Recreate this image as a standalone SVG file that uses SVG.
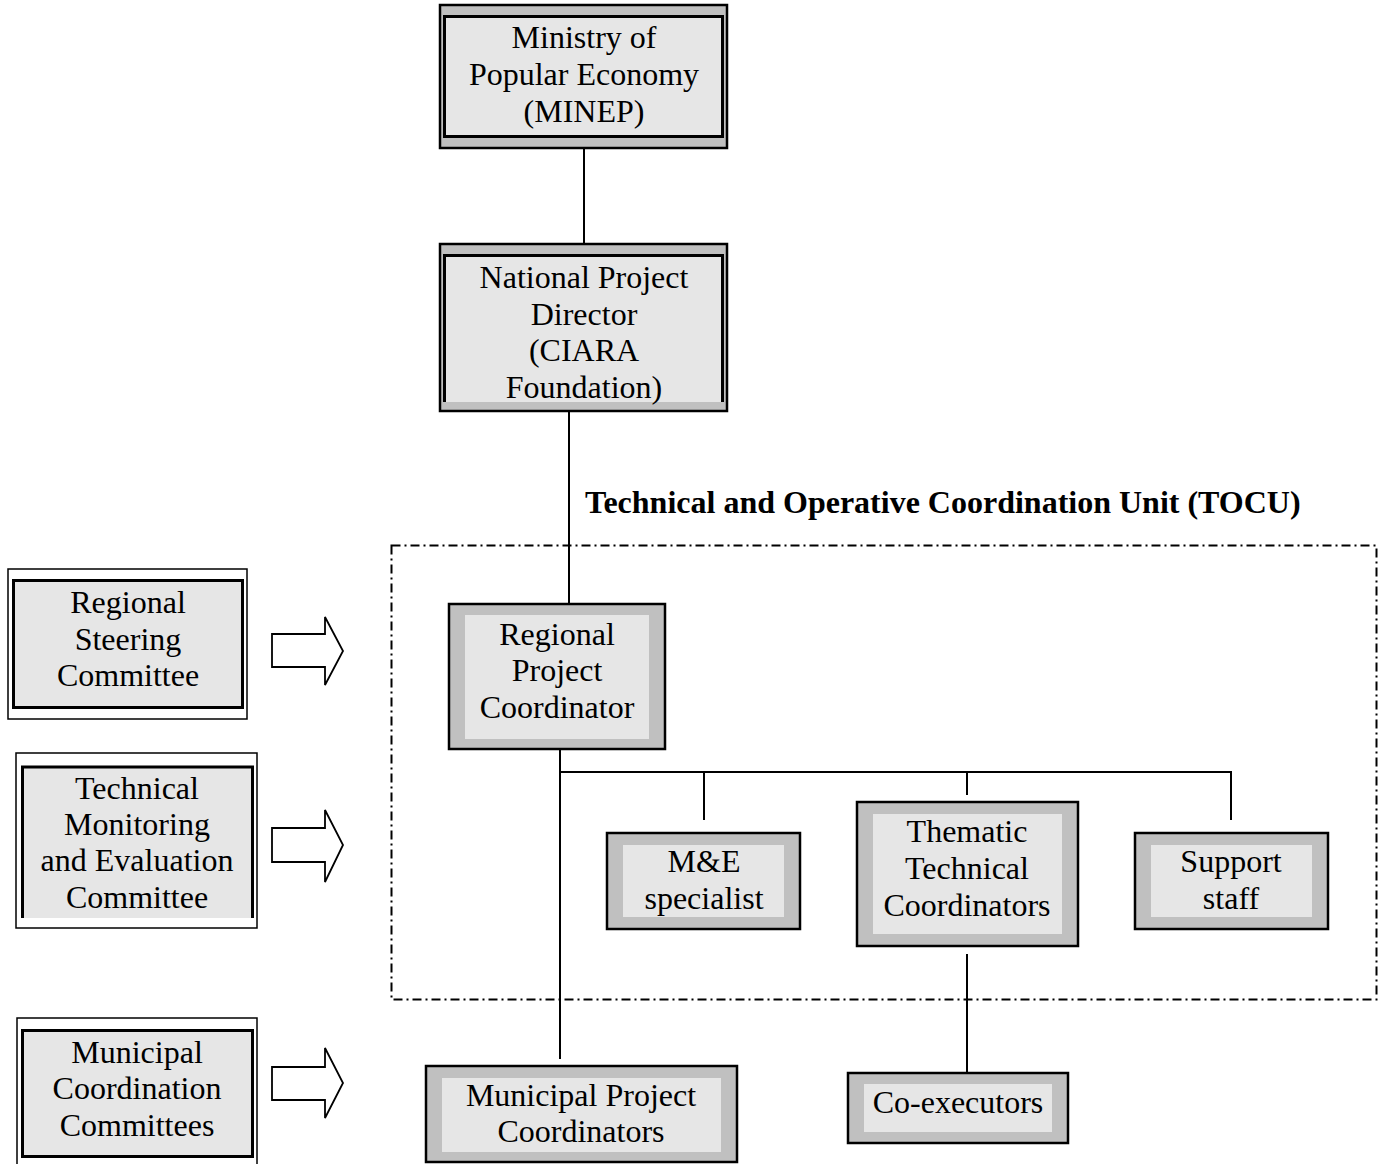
<svg xmlns="http://www.w3.org/2000/svg" width="1382" height="1164" viewBox="0 0 1382 1164">
<style>
.t{font-family:"Liberation Serif","Times New Roman",serif;font-size:32px;fill:#000;text-anchor:middle}
.b{font-weight:bold;text-anchor:start}
.outer{fill:#c0c0c0;stroke:#000;stroke-width:2.5}
.inner{fill:#e6e6e6;stroke:none}
.innerB{fill:#e6e6e6;stroke:#000;stroke-width:3}
.frame{fill:#fff;stroke:#000;stroke-width:1.5}
.line{stroke:#000;stroke-width:2;fill:none}
.arrow{fill:#fff;stroke:#000;stroke-width:1.8;stroke-linejoin:miter}
.tocu{fill:none;stroke:#000;stroke-width:2;stroke-dasharray:9,4,2,4}
</style>
<rect width="1382" height="1164" fill="#fff"/>
<g id="connectors">
<line class="line" x1="584" y1="148" x2="584" y2="244"/>
<line class="line" x1="569" y1="411" x2="569" y2="605"/>
<line class="line" x1="560" y1="749" x2="560" y2="1059"/>
<line class="line" x1="559" y1="772" x2="1232" y2="772"/>
<line class="line" x1="704" y1="772" x2="704" y2="820"/>
<line class="line" x1="967" y1="772" x2="967" y2="795"/>
<line class="line" x1="1231" y1="772" x2="1231" y2="820"/>
<line class="line" x1="967" y1="954" x2="967" y2="1073"/>
<path class="arrow" d="M272,634 H325 V617 L343,651 L325,685 V667 H272 Z"/>
<path class="arrow" d="M272,828 H325 V810 L343,845 L325,882 V862 H272 Z"/>
<path class="arrow" d="M272,1067 H325 V1048 L343,1083 L325,1118 V1100 H272 Z"/>
</g>
<g id="tocu">
<rect class="tocu" x="391.5" y="545.5" width="985" height="454"/>
<text class="t b" x="585" y="513">Technical and Operative Coordination Unit (TOCU)</text>
</g>
<g id="minep">
<rect class="outer" x="440" y="5" width="287" height="143"/>
<rect class="innerB" x="444.5" y="16.5" width="278" height="120"/>
<text class="t" x="584" y="48">Ministry of</text>
<text class="t" x="584" y="85">Popular Economy</text>
<text class="t" x="584" y="122">(MINEP)</text>
</g>
<g id="npd">
<rect class="outer" x="440" y="244" width="287" height="167"/>
<rect class="inner" x="444.5" y="255.5" width="278" height="146.5"/>
<path d="M444.5,402 V255.5 H722.5 V402" fill="none" stroke="#000" stroke-width="3"/>
<text class="t" x="584" y="288">National Project</text>
<text class="t" x="584" y="325">Director</text>
<text class="t" x="584" y="361">(CIARA</text>
<text class="t" x="584" y="398">Foundation)</text>
</g>
<g id="rsc">
<rect class="frame" x="8" y="569" width="239" height="150"/>
<rect class="innerB" x="13.5" y="580.5" width="229" height="127"/>
<text class="t" x="128" y="613">Regional</text>
<text class="t" x="128" y="650">Steering</text>
<text class="t" x="128" y="686">Committee</text>
</g>
<g id="tmec">
<rect class="frame" x="16" y="753" width="241" height="175"/>
<rect class="inner" x="22.5" y="767" width="230" height="151"/>
<path d="M22.5,918 V767 H252.5 V918" fill="none" stroke="#000" stroke-width="3"/>
<text class="t" x="137" y="799">Technical</text>
<text class="t" x="137" y="835">Monitoring</text>
<text class="t" x="137" y="871">and Evaluation</text>
<text class="t" x="137" y="908">Committee</text>
</g>
<g id="mcc">
<rect class="frame" x="17" y="1018" width="240" height="160"/>
<rect class="innerB" x="22.5" y="1030.5" width="230" height="126"/>
<text class="t" x="137" y="1063">Municipal</text>
<text class="t" x="137" y="1099">Coordination</text>
<text class="t" x="137" y="1136">Committees</text>
</g>
<g id="rpc">
<rect class="outer" x="449" y="604" width="216" height="145"/>
<rect class="inner" x="465" y="615" width="184" height="124"/>
<text class="t" x="557" y="645">Regional</text>
<text class="t" x="557" y="681">Project</text>
<text class="t" x="557" y="718">Coordinator</text>
</g>
<g id="me">
<rect class="outer" x="607" y="833" width="193" height="96"/>
<rect class="inner" x="623" y="845" width="161" height="72"/>
<text class="t" x="704" y="872">M&amp;E</text>
<text class="t" x="704" y="909">specialist</text>
</g>
<g id="ttc">
<rect class="outer" x="857" y="802" width="221" height="144"/>
<rect class="inner" x="873" y="814" width="189" height="120"/>
<text class="t" x="967" y="842">Thematic</text>
<text class="t" x="967" y="879">Technical</text>
<text class="t" x="967" y="916">Coordinators</text>
</g>
<g id="support">
<rect class="outer" x="1135" y="833" width="193" height="96"/>
<rect class="inner" x="1151" y="845" width="161" height="72"/>
<text class="t" x="1231" y="872">Support</text>
<text class="t" x="1231" y="909">staff</text>
</g>
<g id="mpc">
<rect class="outer" x="426" y="1066" width="311" height="96"/>
<rect class="inner" x="442" y="1078" width="279" height="74"/>
<text class="t" x="581" y="1106">Municipal Project</text>
<text class="t" x="581" y="1142">Coordinators</text>
</g>
<g id="coexec">
<rect class="outer" x="848" y="1073" width="220" height="70"/>
<rect class="inner" x="864" y="1084" width="188" height="48"/>
<text class="t" x="958" y="1113">Co-executors</text>
</g>
</svg>
